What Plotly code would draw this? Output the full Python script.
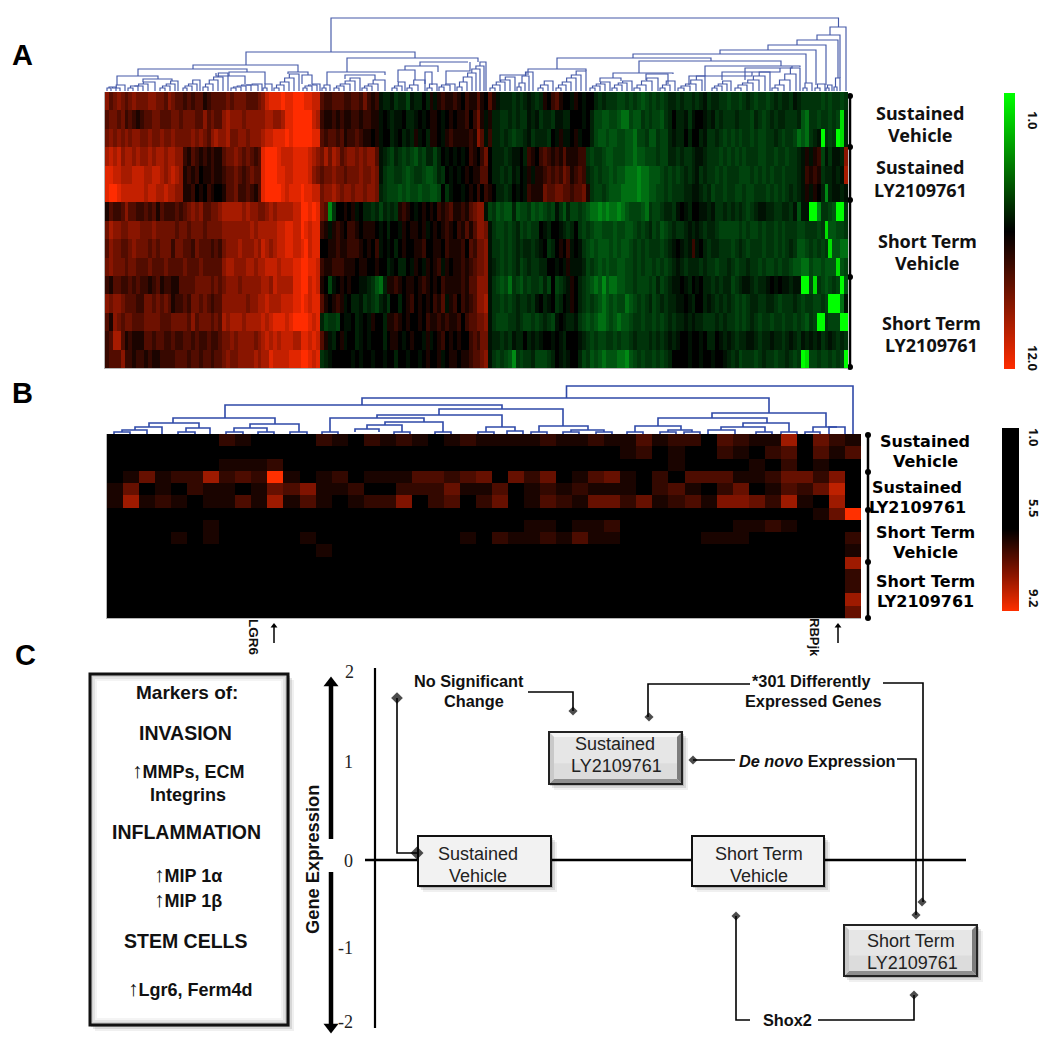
import plotly.graph_objects as go

# ---------- Panel A: expression levels read per gene column (0-9 red, a-i green 1-9)
a_row_01 = "5345434544 4554435433 2323312333 3434443334 5788898899 9887732233 3223324212 abbacbbdab b0b1a12112 1021131031 abbbcbcbab cb1023100a 10a00bcbcc cddcdcdedc dcdcbbcbcc bcbacbbccd ccdcbcdccd cbcbbcabcc cccdcdccdc"
a_row_02 = "3443423212 3344333443 4443353433 5655545555 5665568899 9997621121 2112212211 a0abaa0bba 0a0110a010 1120241a1b bccbcbccab acbbcaabb0 00a0bddeed deffdeecdc ddecb0bbac a00abacbcc cbcccdbcdc bcbbcccbef ccdccdcdhb"
a_row_03 = "4545454554 4544544544 4454543565 5644554555 6778889899 9998832332 3122321101 a00ba0bab1 a0b110a121 1112153a2b bcbcdccbac bbbc0a1aa0 1a00bdeede eddeefddce ecddbabb0b 00baccbcdc dcdccdcddc cbcdccdfef cbaicdcihb"
a_row_04 = "6767566565 5656656655 2132121211 3445434323 8999877788 8876546465 3455454553 abcdbcdcde cdbbdb0a0a 0a0210240b bbcbaa0b21 0232121311 122cdccdee dddeefeedd dcddbbcbcc baabcccdcd cdcdcccddc cdccdccba1 a12dacaab5"
a_row_05 = "8877666777 6677656765 1212011211 2334323433 8999887788 8875434454 4344454454 acddccdedc cdeedbc0a0 a01011330b bcbcab0a1a 1123232431 232bcdcdde deefffgffe eedcdcdcbc bacbccdcdc ccdddcdcdc dccdcccba2 121cbbaba6"
a_row_06 = "8998777777 6776676655 1120102100 1334223213 8999987888 9887745565 4554554554 bcdddededd eddeed0ca0 0a01020210 bbcb0a0a21 1143344332 3341cddcde eeffffgffe eddcdcccbb aabcbdccdc cddcddcccd cdcdcbcba1 a10bgbaaba"
a_row_07 = "1322353322 3231322232 3454533445 6666656554 4565666677 9989843gc0 0101a0bbcb dbcbc1210a 0101021231 1213455adc edeebeddce dedcdacebd dcdeffgfgf fgfedddefc ddcbbca0ab 00aabaccbc bcbcdcbaab bccbbcaeaa iigccdeiic"
a_row_08 = "4655445554 4454444434 4344434444 5555555656 6666778877 9878821a12 1022101110 a0b00a1011 01a0101210 21313554ac ddcdcbdcdc c0ab00abcb 0cdcdeeddd eddeedcdcb dcedcbccba babcbbcddd ddcdcddcdc cdcdcccddc ccdcheeddc"
a_row_09 = "3544334544 4343444244 3324333232 4555655565 7656778877 8978800112 1122210102 a0a0b01001 1200110211 12032445ac cdcdcbcbbc ba0cb0102a 0acdedeeed edeedcdcdc ccdcba0aba 2a0bcbbccc dcbcdcccdc cdcdcbceed cdcdcheeff"
a_row_10 = "4544434433 3433343333 4333433333 5665556656 6777677788 9988721122 2111011001 00ba0bb0a1 0a1012a101 12123445ab cdcdcbdcbc cbb00a0a1a aabdcdeded deeddcdcdd cdcdcbabcb bbcbccdccb cdccbccdcd dcdccdeeff deedeeehed"
a_row_11 = "2133223232 2123122113 3334444343 4555455555 6657666688 9978710da0 10100aabce fb11210110 1210102111 12133555ac dedfcdecdc cdbd0dcba1 0bcdefegef feeddcdddc dbdcbaa0ab 0a0bbcbcbb dcbaabcbba 0a0aabaaii dhcdedcdie"
a_row_12 = "5455433322 4434343122 3244343233 5555554556 6766677788 9878831012 1a0bbacbcd bac00b0120 1010213a12 02123556ac cdcdcbccbc a0ba0cb0a1 0bcdcdefed eddfedcdcb dcbcbbaa0a b00babcbcb cdcdcbbccb bcdcccbcdc cddcdiiifa"
a_row_13 = "3154344333 4444333444 4353444343 6566656666 7678887899 99878bdccd 0aa0ba0a10 0b11210100 1021121211 20233445ac dddccbcddc dcbcda0abb acdedeffed efeedccdcc dcdcbcbbab abbcccbcbc cdcdcbcdcc dccdccdcde cdiicdddii"
a_row_14 = "2366312111 3323322322 3323223223 4454555545 6767677766 8878731ab0 1a00ba0a00 0b0110a010 0a1a012010 10023244ab bcbcabb0ba ba00a0ab00 0abcdcddcc dcddcbcccb cbcbaba00a 00a0bb0aba bcbbaabcbb abbcbabcab abacbabcbc"
a_row_15 = "2333522122 1211222233 3233233233 4544555565 6687777888 99878cba00 000a0a00a0 0a00b00a00 a01001a011 01123345ac dcdegcdccb dddcb0aba0 0bdcedefee effgedcdcc dcdcb0000a 00a00a00ab cbdcccdcbc cdccbcdcih ddcddcdcdi"
a_rows = [a_row_01, a_row_02, a_row_03, a_row_04, a_row_05, a_row_06, a_row_07, a_row_08,
          a_row_09, a_row_10, a_row_11, a_row_12, a_row_13, a_row_14, a_row_15]

# ---------- Panel B: levels above 5.5 per gene (47 genes, 15 samples)
b_row_01 = [0,0,0,0,0,0,0,2,1,0,0,0,0,2,1,0,2,1,2,1,0,1,2,1,1,1,1,2,1,1,2,1,1,3,1,2,2,0,3,2,1,1,6,0,4,2,1]
b_row_02 = [0,0,0,0,0,0,0,0,0,0,0,0,0,0,0,0,0,0,0,0,0,0,0,0,0,0,0,0,0,0,0,0,1,2,0,1,0,0,2,1,0,2,3,0,3,1,3]
b_row_03 = [0,0,0,0,0,0,0,1,1,1,2,0,0,0,0,0,0,0,0,0,0,0,0,0,0,0,0,0,0,0,0,0,0,0,0,1,0,0,0,0,1,0,2,0,1,0,0]
b_row_04 = [0,1,4,1,2,2,6,2,3,2,9,1,0,1,2,0,1,1,1,3,3,2,3,4,0,4,2,4,0,1,3,4,1,0,2,0,3,3,3,1,1,2,4,4,2,5,0]
b_row_05 = [1,4,0,1,0,2,1,1,0,1,4,3,5,1,1,2,0,0,2,2,2,4,1,1,3,0,1,2,1,2,1,1,1,0,2,3,1,0,2,4,0,1,3,2,4,7,0]
b_row_06 = [1,6,1,2,1,0,1,1,3,1,6,1,3,1,0,1,2,2,5,0,2,3,0,2,4,0,1,3,2,1,4,4,2,4,1,2,3,1,5,5,4,2,6,1,0,6,0]
b_row_07 = [0,0,0,0,0,0,0,0,0,0,0,0,0,0,0,0,0,0,0,0,0,0,0,0,0,0,0,0,0,0,0,0,0,0,0,0,0,0,0,0,0,0,0,0,1,4,9]
b_row_08 = [0,0,0,0,0,0,1,0,0,0,0,0,0,0,0,0,0,0,0,0,0,0,0,0,0,0,1,1,0,1,1,2,0,0,0,0,0,0,0,1,1,2,1,0,0,0,0]
b_row_09 = [0,0,0,0,1,0,1,0,0,0,0,0,1,0,0,0,0,0,0,0,0,0,1,0,2,1,1,2,1,3,1,1,0,0,0,0,0,1,1,1,0,0,0,0,0,0,2]
b_row_10 = [0,0,0,0,0,0,0,0,0,0,0,0,0,1,0,0,0,0,0,0,0,0,0,0,0,0,0,0,0,0,0,0,0,0,0,0,0,0,0,0,0,0,0,0,0,0,1]
b_row_11 = [0,0,0,0,0,0,0,0,0,0,0,0,0,0,0,0,0,0,0,0,0,0,0,0,0,0,0,0,0,0,0,0,0,0,0,0,0,0,0,0,0,0,0,0,0,0,6]
b_row_12 = [0,0,0,0,0,0,0,0,0,0,0,0,0,0,0,0,0,0,0,0,0,0,0,0,0,0,0,0,0,0,0,0,0,0,0,0,0,0,0,0,0,0,0,0,0,0,2]
b_row_13 = [0,0,0,0,0,0,0,0,0,0,0,0,0,0,0,0,0,0,0,0,0,0,0,0,0,0,0,0,0,0,0,0,0,0,0,0,0,0,0,0,0,0,0,0,0,0,2]
b_row_14 = [0,0,0,0,0,0,0,0,0,0,0,0,0,0,0,0,0,0,0,0,0,0,0,0,0,0,0,0,0,0,0,0,0,0,0,0,0,0,0,0,0,0,0,0,0,0,6]
b_row_15 = [0,0,0,0,0,0,0,0,0,0,0,0,0,0,0,0,0,0,0,0,0,0,0,0,0,0,0,0,0,0,0,0,0,0,0,0,0,0,0,0,0,0,0,0,0,0,4]
b_rows = [b_row_01, b_row_02, b_row_03, b_row_04, b_row_05, b_row_06, b_row_07, b_row_08,
          b_row_09, b_row_10, b_row_11, b_row_12, b_row_13, b_row_14, b_row_15]

# ---------- Dendrograms: (x left, x right, y top, y foot left, y foot right)
a_links = [
 (331,838.5,18,52,27),(246,415,52,65,58),(193,298,65,69,72),(138,247,69,76,72),(117,158,76,85,79),
 (143,172,79,82,81),(229,265,72,76,84),(216,245,76,73,84),(288,308,72,74,75),(302,312,75,84,84),
 (347,478,58,72,62),(327,385,72,85,75),(345,375,75,79,80),
 (420,468,62,66,62),(405,438,66,70,72),(398,415,70,82,80),(425,432,72,84,85),(446,470,71,84,62),
 (830,846,27,35,91),(817,840,35,40,78),(797,838,40,45,78),(768,826,45,50,85),(720,816,50,54,85),
 (633,806,54,58,83),(557,711,58,69,61),(528,586,69,75,71),(500,526,75,81,72),(639,781,61,73,66),
 (613,673,73,78,74),(600,621,78,82,81),(646,668,74,80,84),(705,800,66,76,67),(689,752,76,85,72),
 (722,780,72,80,68),(745,792,68,80,66),
]
a_ladders = [
 (107,[111,116,120,125],[88,87,88,85]),(128,[133,138,143,148,155],[88,86,86,84,82]),
 (160,[165,170,175,178],[88,86,84,81]),(183,[187,192,197,200],[88,86,84,80]),
 (203,[208,213,218,223,228],[87,84,80,77,73]),(231,[236,241,246,251,258,262],[88,87,86,85,85,84]),
 (263,[267,272],[88,84]),(274,[279,284,289,294,299],[88,85,82,78,74]),
 (303,[307,312,317,320],[88,86,85,84]),(322,[326,330],[88,85]),
 (334,[339,344,350,355,360],[88,86,84,81,78]),(362,[367,372,378,385],[88,86,84,80]),
 (392,[397,402,405],[88,86,82]),(407,[412,418,425],[88,85,80]),(427,[432,437],[88,84]),
 (439,[444,450,455],[87,85,84]),(457,[462,467,472,476,480,484,486],[87,82,77,73,69,66,62]),
 (490,[495,500,505,510,515],[88,85,82,80,77]),(517,[521,525,529,533],[87,83,76,72]),
 (538,[543,548,553],[88,85,81]),(556,[561,566,571,576,581,586],[88,85,82,78,75,71]),
 (590,[595,600,605,610],[88,86,84,82]),(612,[617,622,627,632],[88,85,83,81]),
 (634,[640,646,652,658],[88,85,81,78]),(660,[665,670,675],[88,85,81]),
 (678,[684,690,696,702,705],[88,86,84,80,76]),(712,[717,722,727,731],[88,86,84,81]),
 (735,[741,747,753,759,765,770],[88,85,83,80,76,72]),(772,[778,784,790,796,800],[88,85,80,74,68]),
 (803,[807,812],[88,83]),(815,[820,825],[88,84]),(826,[829,832],[88,85]),(834,[837,840],[87,78]),
]
b_links = [
 (566.5,853,386,398,434),(362,769,398,405,413),(225,502,405,418,409),(173,275,418,423,424),
 (149,199,423,427,428),(135,162,427,430,434),(122,147,430,432,434),(114,130,432,434,434),
 (186,210,428,432,434),(178,195,432,434,434),(250,299,424,428,432),(234,267,428,432,432),
 (226,243,432,434,434),(258,274,432,434,434),(290,307,432,434,434),
 (439,563,409,415,426),(377,502,415,418,427),(330,424,418,432,422),(322,338,432,434,434),
 (385,443,422,425,432),(367,402,425,429,432),(355,379,429,432,432),(394,410,432,434,434),
 (435,451,432,434,434),(486,515,427,432,431),(478,494,432,434,434),(507,523,431,434,434),
 (539,588,426,432,430),(531,547,432,434,434),(571,604,430,432,432),(563,579,432,434,434),(596,612,432,434,434),
 (712,826,413,418,427),(658,767,418,426,423),(635,681,426,432,430),(627,643,432,434,434),
 (668,692,430,432,432),(660,676,432,434,434),(684,700,432,434,434),
 (743,789,423,427,432),(721,765,427,430,432),(708,735,430,434,434),(756,772,432,434,434),(781,797,432,434,434),
 (813,837,427,432,427),(805,820,432,434,434),(829,845,427,434,434),
]

# ---------- Text
a_labels = [("Sustained",920,113),("Vehicle",920,135),("Sustained",920,167),("LY2109761",920,190),
            ("Short Term",927,241),("Vehicle",927,263),("Short Term",931,323),("LY2109761",931,345)]
b_labels = [("Sustained",925,441),("Vehicle",925,461),("Sustained",917,487),("LY2109761",917,507),
            ("Short Term",925,532),("Vehicle",925,552),("Short Term",925,581),("LY2109761",925,601)]
panel_letters = [("A",22,55),("B",22,393),("C",25,655)]
UP = '<span style="font-size:21px;font-weight:normal">↑</span>'
marker_lines = [("<b>Markers of:</b>",187,692,19),("<b>INVASION</b>",185,733,19.5),
                (UP+"<b>MMPs, ECM</b>",188,770,18),("<b>Integrins</b>",188,795,18),
                ("<b>INFLAMMATION</b>",186,832,19.5),(UP+"<b>MIP 1α</b>",188,874,18),
                (UP+"<b>MIP 1β</b>",188,899,18),("<b>STEM CELLS</b>",186,941,19.5),
                (UP+"<b>Lgr6, Ferm4d</b>",190,988,18)]
axis_numbers = [("2",349,672),("1",348,762),("0",348,861),("-1",345,948),("-2",345,1022)]
callouts = [("<b>No Significant</b>",469,681),("<b>Change</b>",474,701),("<b>*301 Differently</b>",811,681),
            ("<b>Expressed Genes</b>",813,701),("<b><i>De novo</i> Expression</b>",817,761),("<b>Shox2</b>",787,1020)]
box_text = [("Sustained",478,854),("Vehicle",478,876),("Sustained",615,744),("LY2109761",616,766),
            ("Short Term",759,854),("Vehicle",759,876),("Short Term",911,941),("LY2109761",912,963)]
flat_boxes = [(418,836,551,886),(692,836,824,886)]
bevel_boxes = [(549,732,682,784),(844,925,977,976)]
connectors = [
 ([397,397,417],[698,853,853]),([528,573,573],[692,692,711]),([750,648,648],[684,684,717]),
 ([883,923,923],[683,683,902]),([735,693],[760,760]),([897,916,916],[759,759,915]),
 ([750,736,736],[1020,1020,916]),([818,914,914],[1020,1020,995]),
]
diamonds_x = [397,417,573,649,922,693,916,736,914]
diamonds_y = [698,853,711,717,902,760,915,916,995]
diamond_sizes = [9,10,7,7,7,7,7,7,7]

# ---------- Colour ramps
a_scale = [[0,"#00ff00"],[0.056,"#00e000"],[0.11,"#008a14"],[0.22,"#005510"],[0.5,"#000000"],[0.78,"#8a1500"],[1,"#ff2c00"]]
a_bar_scale = [[0,"#00ff00"],[0.5,"#000000"],[1,"#ff2c00"]]
b_scale = [[0,"#000000"],[0.55,"#000000"],[0.8,"#8a1500"],[1,"#ff3000"]]
a_legend = [1,2,3,4,5,6,7,8,9,10,11,12]
b_legend = [1.0,2.0,3.0,4.0,5.0,5.5,6.0,7.0,8.0,9.2]

W = H = 1050
def code(ch):
    return int(ch) if ch.isdigit() else -(ord(ch) - 96)
a_z = [[code(c) for c in r.replace(" ", "")] for r in a_rows]
assert all(len(r) == 190 for r in a_z), [len(r) for r in a_z]

fig = go.Figure()
DX = lambda x0, x1: [x0 / W, x1 / W]
DY = lambda y0, y1: [1 - y1 / H, 1 - y0 / H]

# heatmaps on their own axes
fig.add_trace(go.Heatmap(z=a_z, colorscale=a_scale, zmin=-9, zmax=9, showscale=False, xaxis="x2", yaxis="y2"))
fig.add_trace(go.Heatmap(z=b_rows, colorscale=[[0,"#000000"],[0.6,"#8a1500"],[1,"#ff3000"]], zmin=0, zmax=9, showscale=False, xaxis="x3", yaxis="y3"))
fig.add_trace(go.Heatmap(z=[[v, v] for v in a_legend], y=a_legend, colorscale=a_bar_scale, zmin=1, zmax=12, showscale=False, zsmooth="best", xaxis="x4", yaxis="y4"))
fig.add_trace(go.Heatmap(z=[[v, v] for v in b_legend], colorscale=b_scale, zmin=1, zmax=9.2, showscale=False, zsmooth="best", y=b_legend, xaxis="x5", yaxis="y5"))

def hidden(**k):
    return dict(visible=False, fixedrange=True, **k)

def dendro(links, ladders, base, color, width):
    xs, ys = [], []
    for xl, xr, top, fl, fr in links:
        xs += [xl, xl, xr, xr, None]
        ys += [fl, top, top, fr, None]
    for x0, steps, tops in ladders:
        cx, cy = x0, base
        for xn, tn in zip(steps, tops):
            xs += [cx, cx, xn, xn, None]
            ys += [cy, tn, tn, base, None]
            cx, cy = (cx + xn) / 2, tn
    fig.add_trace(go.Scatter(x=xs, y=ys, mode="lines", line=dict(color=color, width=width),
                             hoverinfo="skip", showlegend=False))

dendro(a_links, a_ladders, 91, "#4459a8", 1.15)
dendro(b_links, [], 434, "#2f49a8", 1.6)

def line(xs, ys, w=2, color="#000000"):
    fig.add_trace(go.Scatter(x=xs, y=ys, mode="lines", line=dict(color=color, width=w),
                             hoverinfo="skip", showlegend=False))

# sample brackets
line([850,850],[96,367],2.5)
line([868,868],[435,618],2.5)
fig.add_trace(go.Scatter(x=[850]*5+[868]*5, y=[96,147,200,277,367,435,472,510,562,618], mode="markers",
                         marker=dict(color="#000000", size=6), hoverinfo="skip", showlegend=False))
# gene pointers
line([274,274],[625,643],1.5); line([838,838],[625,643],1.5)
fig.add_trace(go.Scatter(x=[274,838], y=[626,626], mode="markers",
                         marker=dict(symbol="triangle-up", color="#000000", size=6),
                         hoverinfo="skip", showlegend=False))

# panel C axis arrows and connectors
line([331,331],[839,682],4.5); line([331,331],[872,1028],4.5)
fig.add_trace(go.Scatter(x=[331,331], y=[683,1027], mode="markers",
                         marker=dict(symbol=["triangle-up","triangle-down"], color="#000000", size=13),
                         hoverinfo="skip", showlegend=False))
for xs, ys in connectors:
    line(xs, ys, 1.6)
fig.add_trace(go.Scatter(x=diamonds_x, y=diamonds_y, mode="markers",
                         marker=dict(symbol="diamond", color="#000000", size=diamond_sizes, line=dict(width=0)),
                         hoverinfo="skip", showlegend=False))

# shapes
shapes = []
def rect(x0,y0,x1,y1,fill=None,lc=None,lw=0):
    shapes.append(dict(type="rect",xref="x",yref="y",x0=x0,y0=y0,x1=x1,y1=y1,layer="below",
                       fillcolor=fill or "rgba(0,0,0,0)",line=dict(color=lc or "rgba(0,0,0,0)",width=lw)))
def seg(x0,y0,x1,y1,w,c="#000000"):
    shapes.append(dict(type="line",xref="x",yref="y",x0=x0,y0=y0,x1=x1,y1=y1,layer="below",line=dict(color=c,width=w)))
def poly(pts,fill):
    p="M"+" L".join(f"{a},{b}" for a,b in pts)+" Z"
    shapes.append(dict(type="path",xref="x",yref="y",path=p,fillcolor=fill,layer="below",line=dict(width=0)))
def shadow(x0,y0,x1,y1):
    for d,a in ((6,0.06),(4,0.10),(2,0.16)):
        rect(x0+d-1,y0+d,x1+d,y1+d,f"rgba(0,0,0,{a})")

seg(375,668,375,1028,2.2)
seg(365,860,966,860,2.6)
# markers box
shadow(90,674,288,1025)
rect(90,674,288,1025,"#ffffff")
for d,c in ((2,"#cfcfcf"),(4,"#e4e4e4"),(6,"#f4f4f4")):
    rect(90+d,674+d,288-d,1025-d,None,c,2)
rect(90,674,288,1025,None,"#111111",3)
for b in flat_boxes:
    shadow(*b); rect(*b,"#f2f2f2","#111111",2)
for x0,y0,x1,y1 in bevel_boxes:
    shadow(x0,y0,x1,y1)
    rect(x0,y0,x1,y1,"#e6e6e6")
    rect(x0+5,y0+(y1-y0)*0.6,x1-5,y1-5,"#dcdcdc")
    i=5
    poly([(x0,y0),(x1,y0),(x1-i,y0+i),(x0+i,y0+i)],"#f4f4f4")
    poly([(x0,y1),(x1,y1),(x1-i,y1-i),(x0+i,y1-i)],"#8f8f8f")
    poly([(x0,y0),(x0+i,y0+i),(x0+i,y1-i),(x0,y1)],"#c9c9c9")
    poly([(x1,y0),(x1-i,y0+i),(x1-i,y1-i),(x1,y1)],"#7d7d7d")
    rect(x0,y0,x1,y1,None,"#222222",2)

# annotations
ann=[]
def text(t,x,y,size,family,color="#000000",angle=0):
    ann.append(dict(text=t,x=x,y=y,xref="x",yref="y",showarrow=False,xanchor="center",yanchor="middle",
                    textangle=angle,font=dict(size=size,family=family,color=color)))
SANS="Liberation Sans"
for t,x,y in panel_letters: text(f"<b>{t}</b>",x,y,29,SANS)
for t,x,y in a_labels: text(f"<b>{t}</b>",x,y,18,"Noto Sans","#111111")
for t,x,y in b_labels: text(f"<b>{t}</b>",x,y,16,"DejaVu Sans","#000000")
for t,x,y,s in marker_lines: text(t,x,y,s,SANS,"#111111")
for t,x,y in axis_numbers: text(t,x,y,18,"Liberation Serif","#222222")
for t,x,y in callouts: text(t,x,y,16.3,SANS,"#111111")
for t,x,y in box_text: text(t,x,y,18,SANS,"#222222")
text("<b>Gene Expression</b>",312,860,18.3,SANS,"#111111",-90)
text("<b>LGR6</b>",254,637,13.5,SANS,"#111111",90)
text("<b>RBPjk</b>",815,637,13,SANS,"#111111",90)
text("<b>1.0</b>",1033,120,13,"Noto Sans","#111111",90)
text("<b>12.0</b>",1033,358,13,"Noto Sans","#111111",90)
text("<b>1.0</b>",1034,437,13,"Noto Sans","#111111",90)
text("<b>5.5</b>",1034,508,13,"Noto Sans","#111111",90)
text("<b>9.2</b>",1034,598,13,"Noto Sans","#111111",90)

edge = dict(showline=True, linecolor="#b5b5b5", linewidth=1, showticklabels=False, ticks="", showgrid=False, zeroline=False, fixedrange=True)
fig.update_layout(
    width=W, height=H, margin=dict(l=0,r=0,t=0,b=0), paper_bgcolor="#ffffff", plot_bgcolor="rgba(0,0,0,0)",
    showlegend=False, shapes=shapes, annotations=ann,
    xaxis=hidden(domain=[0,1],range=[0,W]), yaxis=hidden(domain=[0,1],range=[H,0]),
    xaxis2=dict(edge,domain=DX(105,848),anchor="y2",range=[-0.5,189.5]),
    yaxis2=dict(edge,domain=DY(92,368),anchor="x2",range=[14.5,-0.5]),
    xaxis3=dict(edge,domain=DX(107,861),anchor="y3",range=[-0.5,46.5]),
    yaxis3=dict(edge,domain=DY(434,618),anchor="x3",range=[14.5,-0.5]),
    xaxis4=hidden(domain=DX(1004,1015),anchor="y4"),
    yaxis4=hidden(domain=DY(93,369),anchor="x4",range=[12,1]),
    xaxis5=hidden(domain=DX(1002,1019),anchor="y5"),
    yaxis5=hidden(domain=DY(428,611),anchor="x5",range=[9.2,1.0]),
)
fig.write_html("out.html", config=dict(displayModeBar=False), post_script="document.body.style.margin='0';")
